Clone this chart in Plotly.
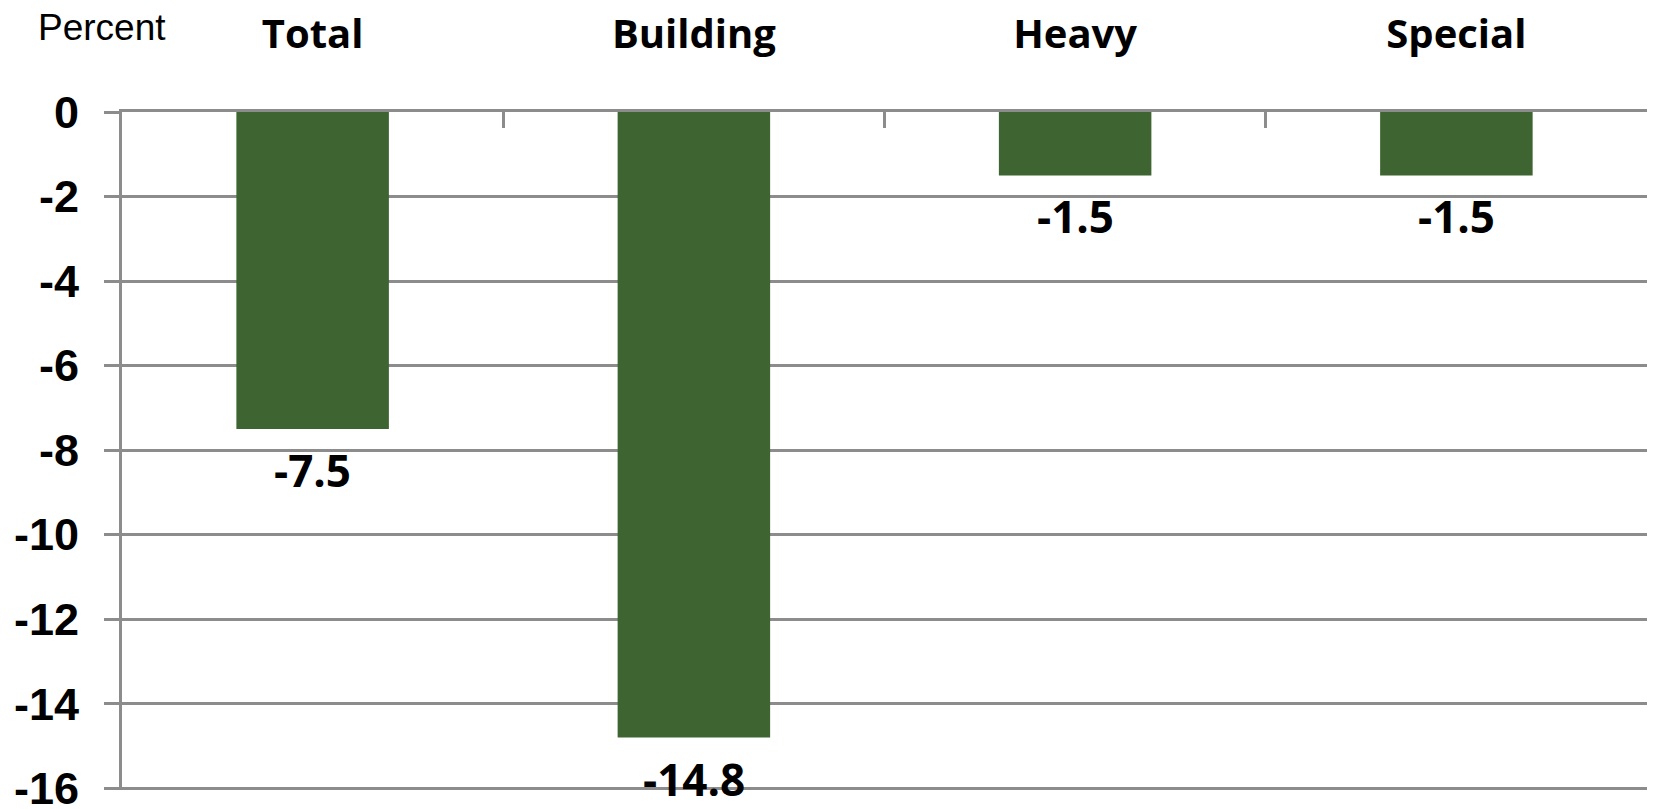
import plotly.graph_objects as go

categories = ["Total", "Building", "Heavy", "Special"]
values = [-7.5, -14.8, -1.5, -1.5]
value_labels = ["-7.5", "-14.8", "-1.5", "-1.5"]
y_ticks = [0, -2, -4, -6, -8, -10, -12, -14, -16]

GRID = "#8c8c8c"
BAR = "#3d6431"

fig = go.Figure()
fig.add_trace(go.Bar(x=categories, y=values, marker=dict(color=BAR, line=dict(width=0)),
                     hoverinfo="skip"))

for c, v, t in zip(categories, values, value_labels):
    fig.add_annotation(x=c, y=v, text=t, showarrow=False, yanchor="top", xanchor="center",
                       yshift=-9, font=dict(family="Open Sans", size=44, color="black", weight="bold"))

fig.add_annotation(xref="paper", yref="paper", x=-0.013, y=1.125, text="Percent", showarrow=False,
                   xanchor="center", yanchor="middle",
                   font=dict(family="Liberation Sans", size=37, color="black"))

fig.update_layout(
    width=1648, height=801,
    margin=dict(l=114, r=9, t=104, b=19, autoexpand=False),
    paper_bgcolor="white", plot_bgcolor="white",
    bargap=0.6, showlegend=False,
    xaxis=dict(side="top", type="category", tickson="boundaries", ticks="inside", ticklen=16,
               tickwidth=3, tickcolor=GRID, showline=True, linecolor=GRID, linewidth=3,
               showgrid=False, ticklabelstandoff=45, automargin=False, ticklabeloverflow="allow",
               tickfont=dict(family="Open Sans", size=40, color="black", weight="bold")),
    yaxis=dict(range=[-16.04, 0], tickvals=y_ticks, ticktext=[str(v) for v in y_ticks],
               ticks="outside", ticklen=15, tickwidth=3, tickcolor=GRID,
               showline=True, linecolor=GRID, linewidth=3,
               showgrid=True, gridcolor=GRID, gridwidth=3, zeroline=False,
               ticklabelstandoff=16, automargin=False, ticklabeloverflow="allow",
               tickfont=dict(family="Liberation Sans", size=45, color="black", weight="bold")),
)

fig.write_html("out.html")
